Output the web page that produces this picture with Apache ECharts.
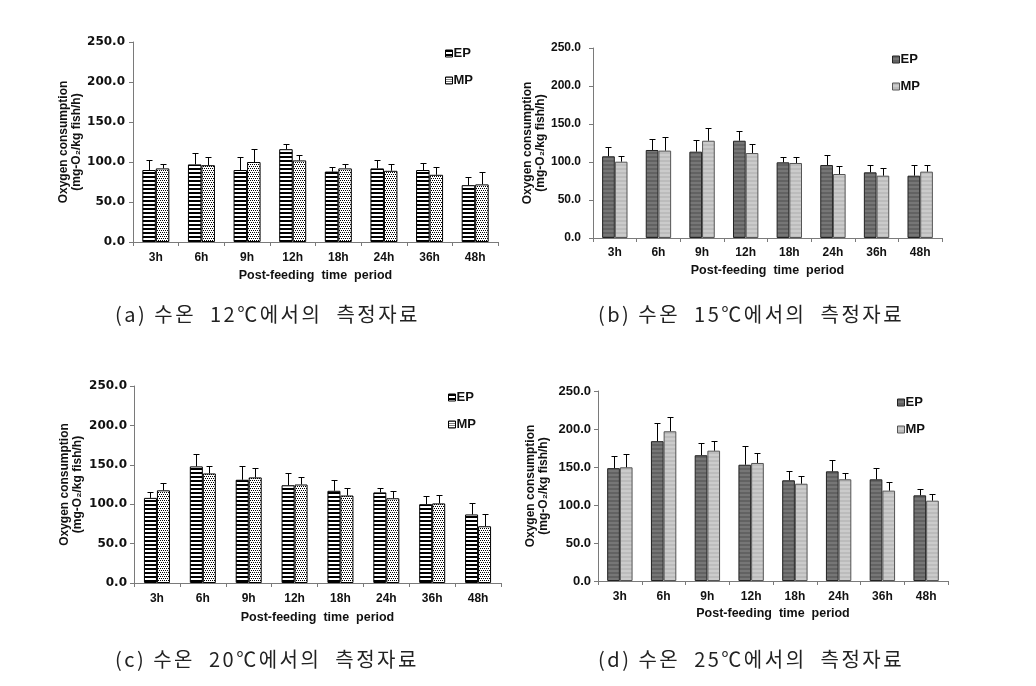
<!DOCTYPE html>
<html>
<head>
<meta charset="utf-8">
<script src="https://cdn.jsdelivr.net/npm/echarts@6/dist/echarts.min.js"></script>
<style>
html,body{margin:0;padding:0;background:#fff;}
#chart{width:1036px;height:686px;}
</style>
</head>
<body>
<div id="chart"></div>
<script>
// ---------- DATA ----------
const categories = ['3h', '6h', '9h', '12h', '18h', '24h', '36h', '48h'];
const yTicks = [0, 50, 100, 150, 200, 250];
const seriesNames = ['EP', 'MP'];

// (a) 12℃
const a_EP = [90, 97, 90, 116, 88, 92, 90, 71];
const a_EP_sd = [12, 14, 16, 7, 6, 10, 9, 10];
const a_MP = [92, 96, 100, 102, 92, 89, 84, 72];
const a_MP_sd = [6, 10, 16, 7, 6, 8, 10, 16];

// (b) 15℃
const b_EP = [107.5, 115.8, 113.6, 128, 99.6, 96, 86.4, 82];
const b_EP_sd = [12, 15, 15, 13, 7, 13, 9, 14];
const b_MP = [100.4, 115, 128, 111.8, 98.7, 84.2, 82, 87.3];
const b_MP_sd = [8, 18, 17, 12, 8, 11, 10, 9];

// (c) 20℃
const c_EP = [108, 148, 131, 124, 117, 115, 100, 87];
const c_EP_sd = [8, 16, 17, 15, 14, 6, 10, 14];
const c_MP = [117.6, 139, 134, 125, 111, 107.5, 101, 72];
const c_MP_sd = [9, 9, 12, 10, 9, 9, 11, 16];

// (d) 25℃
const d_EP = [148.5, 184, 165.5, 153, 132.5, 144.3, 133.8, 112.7];
const d_EP_sd = [16, 24.5, 16.5, 24, 12, 15.3, 14.4, 8.8];
const d_MP = [149.6, 197, 171.5, 155.3, 128, 133.8, 118.9, 105.7];
const d_MP_sd = [18, 19, 12.7, 13.6, 9.7, 8.2, 11.8, 9.2];

const captions = [
  '(a) 수온  12℃에서의  측정자료',
  '(b) 수온  15℃에서의  측정자료',
  '(c) 수온  20℃에서의  측정자료',
  '(d) 수온  25℃에서의  측정자료'
];
const yName = 'Oxygen consumption\n(mg-O\u2082/kg fish/h)';
const xName = 'Post-feeding  time  period';

// ---------- PATTERNS ----------
function stripes(c1, c2, period, thick) {
  const cv = document.createElement('canvas');
  cv.width = 4; cv.height = period;
  const g = cv.getContext('2d');
  g.fillStyle = c2; g.fillRect(0, 0, 4, period);
  g.fillStyle = c1; g.fillRect(0, 0, 4, thick);
  return { image: cv, repeat: 'repeat' };
}
function dots() {
  const cv = document.createElement('canvas');
  cv.width = 4; cv.height = 4;
  const g = cv.getContext('2d');
  g.fillStyle = '#fff'; g.fillRect(0, 0, 4, 4);
  g.fillStyle = '#000';
  [[0,0],[2,0],[1,2],[3,2]].forEach(p => g.fillRect(p[0], p[1], 1, 1));
  return { image: cv, repeat: 'repeat' };
}

const patBW_EP = stripes('#000', '#fff', 4, 2);
const patBW_MP = dots();
const patG_EP = stripes('#626262', '#767676', 4, 2);
const patG_MP = stripes('#bcbcbc', '#cbcbcb', 4, 2);

const panels = [
  { ep: a_EP, eps: a_EP_sd, mp: a_MP, mps: a_MP_sd,
    grid: { left: 133, top: 42, width: 365, height: 200 }, bw: 13.5,
    epFill: patBW_EP, mpFill: patBW_MP, epBorder: '#000', mpBorder: '#000',
    yFont: 'DejaVu Sans', yFs: 12, yMargin: 8, nameGap: 50, xNameGap: 27, xMargin: 10,
    legend: { left: 445, top: 47 }, cap: { x: 115, y: 316 } },
  { ep: b_EP, eps: b_EP_sd, mp: b_MP, mps: b_MP_sd,
    grid: { left: 593, top: 48, width: 349, height: 190 }, bw: 12.7,
    epFill: patG_EP, mpFill: patG_MP, epBorder: '#222', mpBorder: '#555',
    yFont: 'Liberation Sans', yFs: 12, yMargin: 12, nameGap: 46, xNameGap: 26, xMargin: 9,
    legend: { left: 892, top: 53 }, cap: { x: 598, y: 316 } },
  { ep: c_EP, eps: c_EP_sd, mp: c_MP, mps: c_MP_sd,
    grid: { left: 134, top: 386, width: 367, height: 197 }, bw: 13,
    epFill: patBW_EP, mpFill: patBW_MP, epBorder: '#000', mpBorder: '#000',
    yFont: 'DejaVu Sans', yFs: 12, yMargin: 7, nameGap: 50, xNameGap: 28, xMargin: 10,
    legend: { left: 448, top: 391 }, cap: { x: 115, y: 661 } },
  { ep: d_EP, eps: d_EP_sd, mp: d_MP, mps: d_MP_sd,
    grid: { left: 598, top: 391, width: 350, height: 190 }, bw: 12.7,
    epFill: patG_EP, mpFill: patG_MP, epBorder: '#222', mpBorder: '#555',
    yFont: 'Liberation Sans', yFs: 13, yMargin: 7, nameGap: 48, xNameGap: 26, xMargin: 10,
    legend: { left: 897, top: 396 }, cap: { x: 598, y: 661 } }
];

const grids = [], xAxes = [], yAxes = [], series = [], legends = [], graphics = [];

function errSeries(idx, values, sds, offsetSign, bw) {
  return {
    type: 'custom', xAxisIndex: idx, yAxisIndex: idx, z: 5, silent: true,
    data: values.map((v, i) => [i, v, sds[i]]),
    renderItem: function (params, api) {
      const base = api.coord([api.value(0), api.value(1)]);
      const top = api.coord([api.value(0), api.value(1) + api.value(2)]);
      const cx = Math.round(base[0] + offsetSign * bw / 2) + 0.5;
      const ty = Math.round(top[1]) + 0.5;
      return {
        type: 'group',
        children: [
          { type: 'line', shape: { x1: cx, y1: base[1], x2: cx, y2: ty }, style: { stroke: '#000', lineWidth: 1 } },
          { type: 'line', shape: { x1: cx - 3, y1: ty, x2: cx + 3, y2: ty }, style: { stroke: '#000', lineWidth: 1 } }
        ]
      };
    }
  };
}

// spread caption characters (the source font is set wide)
function spread(s) { return s.split('').join('\u200A\u200A'); }

panels.forEach((p, k) => {
  grids.push(Object.assign({ containLabel: false }, p.grid));
  xAxes.push({
    type: 'category', gridIndex: k, data: categories,
    axisLine: { lineStyle: { color: '#7a7a7a', width: 1 } },
    axisTick: { show: true, length: 4, lineStyle: { color: '#7a7a7a' } },
    axisLabel: { margin: p.xMargin, color: '#111', fontFamily: 'Liberation Sans', fontWeight: 'bold', fontSize: 12 },
    name: xName, nameLocation: 'middle', nameGap: p.xNameGap,
    nameTextStyle: { color: '#111', fontFamily: 'Liberation Sans', fontWeight: 'bold', fontSize: 12.5, verticalAlign: 'top' }
  });
  yAxes.push({
    type: 'value', gridIndex: k, min: yTicks[0], max: yTicks[yTicks.length - 1], interval: 50,
    splitLine: { show: false },
    axisLine: { show: true, lineStyle: { color: '#7a7a7a', width: 1 } },
    axisTick: { show: true, length: 4, lineStyle: { color: '#7a7a7a' } },
    axisLabel: { margin: p.yMargin, color: '#111', fontFamily: p.yFont, fontWeight: 'bold', fontSize: p.yFs,
      formatter: v => v.toFixed(1) },
    name: yName, nameLocation: 'middle', nameGap: p.nameGap, nameRotate: 90,
    nameTextStyle: { color: '#111', fontFamily: 'Liberation Sans', fontWeight: 'bold', fontSize: 12, lineHeight: 13, align: 'center' }
  });
  series.push({
    name: seriesNames[0], type: 'bar', xAxisIndex: k, yAxisIndex: k, data: p.ep,
    barWidth: p.bw, barGap: '0%',
    itemStyle: { color: p.epFill, borderColor: p.epBorder, borderWidth: 1 }
  });
  series.push({
    name: seriesNames[1], type: 'bar', xAxisIndex: k, yAxisIndex: k, data: p.mp,
    barWidth: p.bw, barGap: '0%',
    itemStyle: { color: p.mpFill, borderColor: p.mpBorder, borderWidth: 1 }
  });
  series.push(errSeries(k, p.ep, p.eps, -1, p.bw));
  series.push(errSeries(k, p.mp, p.mps, 1, p.bw));
  legends.push({
    left: p.legend.left, top: p.legend.top, orient: 'vertical', padding: 0,
    itemWidth: 7, itemHeight: 7, itemGap: 14, selectedMode: false,
    textStyle: { color: '#111', fontFamily: 'Liberation Sans', fontWeight: 'bold', fontSize: 13, padding: [0, 0, 0, -4] },
    data: [
      { name: seriesNames[0], icon: 'rect', itemStyle: { color: p.epFill, borderColor: p.epBorder, borderWidth: 1 } },
      { name: seriesNames[1], icon: 'rect', itemStyle: { color: p.mpFill, borderColor: p.mpBorder, borderWidth: 1 } }
    ]
  });
  graphics.push({
    type: 'text', left: p.cap.x, top: p.cap.y - 12,
    style: { text: spread(captions[k]), fill: '#222', font: '20px "Noto Sans CJK KR"' }
  });
});

const chart = echarts.init(document.getElementById('chart'), null, { renderer: 'canvas' });
chart.setOption({
  backgroundColor: '#fff',
  animation: false,
  grid: grids, xAxis: xAxes, yAxis: yAxes, series: series, legend: legends,
  graphic: graphics
});
</script>
</body>
</html>
